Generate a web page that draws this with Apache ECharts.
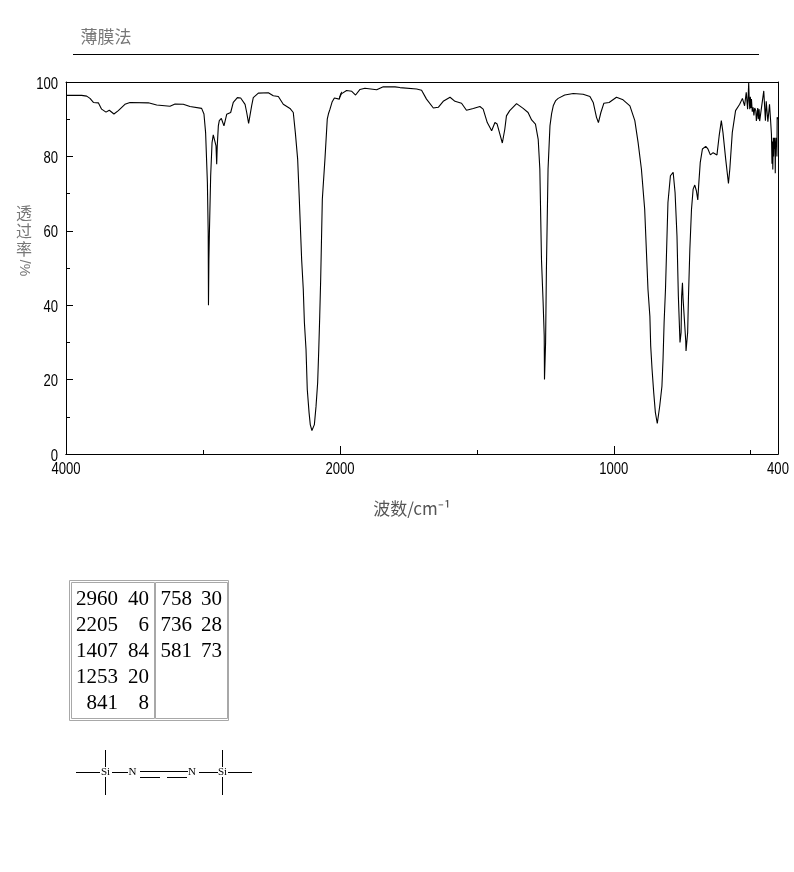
<!DOCTYPE html>
<html><head><meta charset="utf-8">
<style>html,body{margin:0;padding:0;background:#fff}#c{width:794px;height:872px}</style>
<script src="https://cdn.jsdelivr.net/npm/echarts@6/dist/echarts.min.js"></script>
</head><body><div id="c"></div>
<script>
const wavenumbers=[4000,3886,3849,3825,3800,3764,3740,3708,3684,3650,3618,3570,3533,3399,3338,3241,3204,3144,3095,3010,2993,2981,2968,2962,2960,2957,2953,2944,2934,2925,2915,2905,2900,2897,2896,2888,2881,2866,2847,2827,2798,2779,2749,2725,2693,2681,2667,2657,2645,2633,2596,2523,2487,2450,2414,2365,2341,2326,2309,2297,2280,2268,2260,2248,2239,2226,2217,2205,2187,2175,2163,2155,2148,2141,2129,2110,2093,2083,2073,2058,2041,2005,1995,1976,1957,1943,1927,1909,1866,1842,1799,1781,1720,1702,1684,1659,1641,1623,1598,1580,1556,1538,1513,1489,1477,1462,1446,1434,1426,1416,1407,1398,1392,1380,1355,1331,1313,1300,1286,1276,1270,1264,1258,1254,1253,1249,1246,1240,1233,1227,1221,1212,1203,1179,1148,1112,1087,1075,1063,1056,1047,1036,1017,990,966,941,923,911,899,887,875,868,865,860,854,848,841,832,824,820,816,811,802,793,783,776,769,764,763,758,754,752,749,747,741,737,736,730,727,722,716,710,704,698,693,690,684,676,664,656,647,637,623,615,607,601,591,581,576,567,555,540,530,522,516,511,507,505,503,501,499,497,494,491,488,485,481,479,477,474,472,469,467,465,452,446,443,437,431,427,424,422,420,419,417,416,414,413,411,410,409,407,406,404,403,400];
const transmittance=[96.4,96.4,96.2,95.6,94.5,94.4,92.7,91.9,92.4,91.4,92.3,94.0,94.5,94.4,93.8,93.5,94.1,94.0,93.4,92.9,91.4,86.4,73,59.5,40,52,60,74.8,83.7,85.8,85.7,82.8,77.9,78,82.8,88.2,89.6,90.2,88.2,91.3,91.8,94.5,95.8,95.7,94,91.8,88.9,89.1,93.6,95.8,97,97.1,96.3,96.1,94,92.9,91.8,86.4,79.2,68.5,52.3,44.2,35.4,28.1,17.4,11.2,7.9,6.3,7.9,12.8,19.2,28.1,37,47,68.5,79.2,90,91.6,92.7,94.6,95.7,95.4,96.8,97.7,97.5,96.5,98,98.3,97.9,98.7,98.7,98.5,98.1,97.8,95.4,93,93.2,94.8,95.9,94.8,94.3,92.4,92.9,93.4,92.7,89.1,86.9,89.1,88.7,86,83.6,87.3,90.9,92.3,94.2,92.9,91.8,89.8,88.7,84.6,76.6,52.3,40.7,31.7,20,29.9,49.6,76.6,88.2,91.5,93.6,95,95.6,96.5,96.9,96.7,96.1,94.5,90.5,89.1,91.8,94.3,94.5,95.9,95.2,93.6,89.6,83.7,76.6,65.8,44.3,37,29,22.7,16.5,11.2,8.2,12.9,18.2,25.4,35.4,44.3,67.6,74.8,75.7,70.3,58.6,42.5,42.4,30,32.7,42.4,46,42,42.4,30.3,27.7,32.7,42.4,55,65.8,71.2,72.3,70.7,68.3,72,78.4,82,82.7,82,80.4,81,80.4,85.5,89.6,86.4,79.2,72.7,76.6,86.4,92.3,94,95.6,93.6,97.2,92.7,99.7,95,92.7,96,93,95.4,92,93.2,91,93,92.3,89.5,90,93,90,92.7,89.5,90,97.6,89.6,94.8,89.3,94,89.6,86,78,84,76.5,85,80,85,82,85,75.5,84,83,85,80,90.5,90];
const yTicks=[0,20,40,60,80,100];
const xLabelsLeft=[4000,2000];
const xLabelsRight=[1000,400];
const xLongTicks=[2000,1000];
const xShortTicks=[1500,500];
const peakWaveA=['2960','2205','1407','1253','841'];
const peakTransA=['40','6','84','20','8'];
const peakWaveB=['758','736','581'];
const peakTransB=['30','28','73'];
const points=wavenumbers.map((w,i)=>[w,transmittance[i]]);

const sans='"Liberation Sans",sans-serif';
const cjk='"Noto Sans CJK SC",sans-serif';
const serif='"Liberation Serif",serif';
const lineStyle={color:'#000',width:1.1};
const g=[];
function txt(x,y,text,font,size,fill,align,extra){g.push(Object.assign({type:'text',x,y,silent:true,style:{text,font:size+'px '+font,fill,align:align||'center',verticalAlign:'middle'}},extra||{}));}
function ln(x1,y1,x2,y2,color){g.push({type:'line',silent:true,shape:{x1,y1,x2,y2},style:{stroke:color||'#000',lineWidth:1}});}
function box(x,y,w,h,color){g.push({type:'rect',silent:true,shape:{x,y,width:w,height:h},style:{fill:'none',stroke:color,lineWidth:1}});}

txt(106,37,'薄膜法',cjk,17,'#777');
ln(73,54.5,759,54.5);
txt(24,213,'透',cjk,16,'#777');
txt(24,231,'过',cjk,16,'#777');
txt(24,249,'率',cjk,16,'#777');
txt(24,268,'/%',sans,14,'#777','center',{rotation:-Math.PI/2});
txt(412,509,'波数/cm⁻¹',cjk,17,'#555');

box(69.5,580.5,159,140,'#a8a8a8');
box(71.5,582.5,83,136,'#a8a8a8');
box(155.5,582.5,72,136,'#a8a8a8');
const rowY=[599,625,651,677,703];
peakWaveA.forEach((v,i)=>{txt(118,rowY[i],v,serif,21,'#000','right');txt(149,rowY[i],peakTransA[i],serif,21,'#000','right');});
peakWaveB.forEach((v,i)=>{txt(192,rowY[i],v,serif,21,'#000','right');txt(222,rowY[i],peakTransB[i],serif,21,'#000','right');});

ln(76,772.5,100,772.5);ln(105.5,750,105.5,767);ln(105.5,777,105.5,795);
txt(105.5,772.5,'Si',serif,11,'#000');
ln(112,772.5,128,772.5);txt(132.5,772.5,'N',serif,11,'#000');
ln(140,771.5,188,771.5);ln(140,777.5,160,777.5);ln(167,777.5,187,777.5);
txt(192,772.5,'N',serif,11,'#000');ln(199,772.5,218,772.5);
txt(222.5,772.5,'Si',serif,11,'#000');ln(228,772.5,252,772.5);
ln(222.5,750,222.5,767);ln(222.5,777,222.5,795);

const axisLine={show:true,onZero:false,lineStyle:{color:'#000',width:1}};
const base={type:'value',inverse:true,splitLine:{show:false},axisLine};
const none={axisTick:{show:false},axisLabel:{show:false}};
const option={
 animation:false,backgroundColor:'#fff',
 grid:[{left:66,top:82,width:274,height:372},{left:340,top:82,width:438,height:372}],
 xAxis:[
  Object.assign({},base,{gridIndex:0,position:'bottom',min:2000,max:4000,axisLabel:{show:false},
    axisTick:{show:true,inside:true,length:8,lineStyle:{color:'#000'},customValues:[2000]}}),
  Object.assign({},base,none,{gridIndex:0,position:'top',min:2000,max:4000}),
  Object.assign({},base,{gridIndex:1,position:'bottom',min:400,max:2000,axisLabel:{show:false},
    axisTick:{show:true,inside:true,length:8,lineStyle:{color:'#000'},customValues:xLongTicks}}),
  Object.assign({},base,{gridIndex:1,position:'top',min:400,max:2000},none),
  Object.assign({},base,{gridIndex:1,position:'bottom',min:400,max:2000,axisLabel:{show:false},
    axisTick:{show:true,inside:true,length:4,lineStyle:{color:'#000'},customValues:xShortTicks}}),
  Object.assign({},base,{gridIndex:0,position:'bottom',min:2000,max:4000,axisLabel:{show:false},
    axisTick:{show:true,inside:true,length:4,lineStyle:{color:'#000'},customValues:[3000]}})
 ],
 yAxis:[
  {type:'value',gridIndex:0,position:'left',min:0,max:100,interval:20,splitLine:{show:false},axisLine,
   axisTick:{show:true,inside:true,length:7,lineStyle:{color:'#000'}},
   minorTick:{show:true,splitNumber:2,length:4,lineStyle:{color:'#000'}},
   axisLabel:{show:false}},
  {type:'value',gridIndex:1,position:'right',min:0,max:100,splitLine:{show:false},axisLine,axisTick:{show:false},axisLabel:{show:false}}
 ],
 series:[
  {type:'line',xAxisIndex:0,yAxisIndex:0,data:points,showSymbol:false,symbol:'none',lineStyle,clip:true},
  {type:'line',xAxisIndex:2,yAxisIndex:1,data:points,showSymbol:false,symbol:'none',lineStyle,clip:true}
 ]
};
const chart=echarts.init(document.getElementById('c'));
chart.setOption(option);
// tick labels: condensed digits, placed through the axes' own scales
const squeeze={scaleX:0.77};
yTicks.forEach(v=>txt(58,chart.convertToPixel({yAxisIndex:0},v)+2,String(v),sans,17,'#000','right',squeeze));
xLabelsLeft.forEach(v=>txt(chart.convertToPixel({xAxisIndex:0},v),469,String(v),sans,17,'#000','center',squeeze));
xLabelsRight.forEach(v=>txt(chart.convertToPixel({xAxisIndex:2},v),469,String(v),sans,17,'#000','center',squeeze));
chart.setOption({graphic:g});
</script></body></html>
